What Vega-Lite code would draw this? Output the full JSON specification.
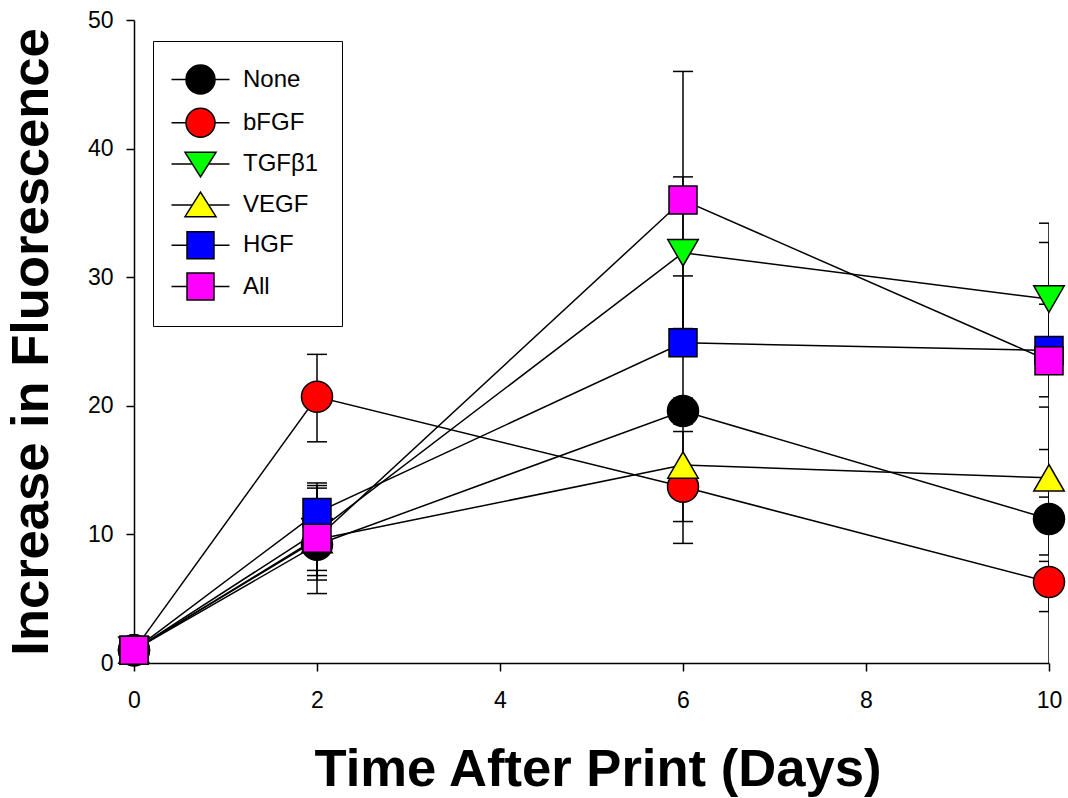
{
  "$schema": "https://vega.github.io/schema/vega-lite/v6.json",
  "width": 915,
  "height": 643,
  "autosize": {"type": "none"},
  "padding": {"left": 134, "top": 20, "right": 19, "bottom": 135},
  "background": "white",
  "config": {
    "view": {"stroke": null},
    "font": "Liberation Sans",
    "axis": {
      "grid": false,
      "labelFlush": false,
      "domainColor": "black",
      "domainWidth": 1.5,
      "tickColor": "black",
      "tickWidth": 1.5,
      "tickSize": 8,
      "labelFont": "Liberation Sans",
      "labelFontSize": 23,
      "labelColor": "black",
      "titleFont": "Liberation Sans",
      "titleFontWeight": "bold",
      "titleColor": "black"
    },
    "legend": {
      "labelFont": "Liberation Sans",
      "labelFontSize": 24,
      "labelColor": "black",
      "symbolSize": 841,
      "symbolStrokeColor": "black",
      "symbolStrokeWidth": 1.5,
      "rowPadding": 8.2,
      "padding": 23,
      "labelOffset": 27,
      "symbolOffset": 9,
      "fillColor": "white",
      "strokeColor": "black"
    }
  },
  "data": {
    "values": [
      {"group": "None", "day": 0, "mean": 1.0, "lo": 0.6, "hi": 1.4},
      {"group": "bFGF", "day": 0, "mean": 1.0, "lo": 0.6, "hi": 1.4},
      {"group": "TGFβ1", "day": 0, "mean": 1.0, "lo": 0.6, "hi": 1.4},
      {"group": "VEGF", "day": 0, "mean": 1.0, "lo": 0.6, "hi": 1.4},
      {"group": "HGF", "day": 0, "mean": 1.0, "lo": 0.6, "hi": 1.4},
      {"group": "All", "day": 0, "mean": 1.0, "lo": 0.6, "hi": 1.4},
      {"group": "None", "day": 2, "mean": 9.2, "lo": 7.2, "hi": 11.2},
      {"group": "bFGF", "day": 2, "mean": 20.7, "lo": 17.2, "hi": 24.0},
      {"group": "TGFβ1", "day": 2, "mean": 10.2, "lo": 6.8, "hi": 13.6},
      {"group": "VEGF", "day": 2, "mean": 9.6, "lo": 5.4, "hi": 13.8},
      {"group": "HGF", "day": 2, "mean": 11.7, "lo": 9.4, "hi": 14.0},
      {"group": "All", "day": 2, "mean": 9.7, "lo": 6.45, "hi": 12.3},
      {"group": "None", "day": 6, "mean": 19.6, "lo": 18.6, "hi": 20.6},
      {"group": "bFGF", "day": 6, "mean": 13.7, "lo": 9.3, "hi": 18.0},
      {"group": "TGFβ1", "day": 6, "mean": 31.9, "lo": 26.0, "hi": 37.8},
      {"group": "VEGF", "day": 6, "mean": 15.4, "lo": 11.0, "hi": 19.8},
      {"group": "HGF", "day": 6, "mean": 24.9, "lo": 19.7, "hi": 30.1},
      {"group": "All", "day": 6, "mean": 36.0, "lo": 26.0, "hi": 46.0},
      {"group": "None", "day": 10, "mean": 11.2, "lo": -0.5, "hi": 16.6},
      {"group": "bFGF", "day": 10, "mean": 6.3, "lo": 4.0, "hi": 7.9},
      {"group": "TGFβ1", "day": 10, "mean": 28.3, "lo": 23.9, "hi": 32.7},
      {"group": "VEGF", "day": 10, "mean": 14.4, "lo": 8.4, "hi": 19.9},
      {"group": "HGF", "day": 10, "mean": 24.3, "lo": 20.7, "hi": 27.9},
      {"group": "All", "day": 10, "mean": 23.5, "lo": 12.9, "hi": 34.2}
    ]
  },
  "encoding": {
    "x": {
      "field": "day",
      "type": "quantitative",
      "scale": {"domain": [0, 10], "nice": false, "zero": false},
      "axis": {"values": [0, 2, 4, 6, 8, 10], "labelPadding": 18, "titlePadding": 31, "titleFontSize": 52.6, "titleX": 463.5, "title": "Time After Print (Days)"}
    }
  },
  "layer": [
    {
      "mark": {"type": "line", "color": "black", "strokeWidth": 1.5},
      "encoding": {
        "y": {
          "field": "mean",
          "type": "quantitative",
          "scale": {"domain": [0, 50], "nice": false},
          "axis": {"values": [0, 10, 20, 30, 40, 50], "labelPadding": 13, "titlePadding": 29, "titleFontSize": 52.5, "title": "Increase in Fluorescence"}
        },
        "detail": {"field": "group"}
      }
    },
    {
      "mark": {"type": "rule", "color": "black", "strokeWidth": 1.5, "clip": true},
      "encoding": {
        "y": {"field": "lo", "type": "quantitative"},
        "y2": {"field": "hi"}
      }
    },
    {
      "transform": [{"fold": ["lo", "hi"], "as": ["end", "v"]}],
      "mark": {"type": "tick", "orient": "horizontal", "color": "black", "size": 20, "thickness": 1.5, "opacity": 1, "clip": true},
      "encoding": {
        "y": {"field": "v", "type": "quantitative"}
      }
    },
    {
      "transform": [{"filter": "false"}],
      "mark": {"type": "point", "filled": true, "stroke": "black", "strokeWidth": 1.5, "opacity": 1},
      "encoding": {
        "y": {"field": "mean", "type": "quantitative"},
        "color": {
          "field": "group",
          "type": "nominal",
          "scale": {
            "domain": ["None", "bFGF", "TGFβ1", "VEGF", "HGF", "All"],
            "range": ["#000000", "#ff0000", "#00ff00", "#ffff00", "#0000ff", "#ff00ff"]
          },
          "legend": {"title": null, "orient": "none", "legendX": 19, "legendY": 21}
        },
        "shape": {
          "field": "group",
          "type": "nominal",
          "scale": {
            "domain": ["None", "bFGF", "TGFβ1", "VEGF", "HGF", "All"],
            "range": [
              "M-2,0H-1M1,0H2M-1,0A1,1 0 1,1 1,0A1,1 0 1,1 -1,0Z",
              "M-2,0H-1M1,0H2M-1,0A1,1 0 1,1 1,0A1,1 0 1,1 -1,0Z",
              "M-2,0H-0.57M0.57,0H2M-1.07,-0.8L1.07,-0.8L0,0.9Z",
              "M-2,0H-0.57M0.57,0H2M0,-0.9L1.07,0.8L-1.07,0.8Z",
              "M-2,0H-0.93M0.93,0H2M-0.93,-0.93H0.93V0.93H-0.93Z",
              "M-2,0H-0.93M0.93,0H2M-0.93,-0.93H0.93V0.93H-0.93Z"
            ]
          },
          "legend": {"title": null, "orient": "none", "legendX": 19, "legendY": 21}
        }
      }
    },
    {
      "transform": [{"filter": {"field": "group", "oneOf": ["None", "bFGF"]}}],
      "mark": {"type": "point", "shape": "circle", "size": 961, "filled": true, "stroke": "black", "strokeWidth": 1.5, "opacity": 1},
      "encoding": {
        "y": {"field": "mean", "type": "quantitative"},
        "color": {"field": "group", "type": "nominal"}
      }
    },
    {
      "transform": [{"filter": {"field": "group", "equal": "TGFβ1"}}],
      "mark": {"type": "point", "shape": "triangle-down", "size": 930, "filled": true, "stroke": "black", "strokeWidth": 1.5, "opacity": 1},
      "encoding": {
        "y": {"field": "mean", "type": "quantitative"},
        "color": {"field": "group", "type": "nominal"}
      }
    },
    {
      "transform": [{"filter": {"field": "group", "equal": "VEGF"}}],
      "mark": {"type": "point", "shape": "triangle-up", "size": 930, "filled": true, "stroke": "black", "strokeWidth": 1.5, "opacity": 1},
      "encoding": {
        "y": {"field": "mean", "type": "quantitative"},
        "color": {"field": "group", "type": "nominal"}
      }
    },
    {
      "transform": [{"filter": {"field": "group", "oneOf": ["HGF", "All"]}}],
      "mark": {"type": "point", "shape": "square", "size": 784, "filled": true, "stroke": "black", "strokeWidth": 1.5, "opacity": 1},
      "encoding": {
        "y": {"field": "mean", "type": "quantitative"},
        "color": {"field": "group", "type": "nominal"}
      }
    }
  ]
}
